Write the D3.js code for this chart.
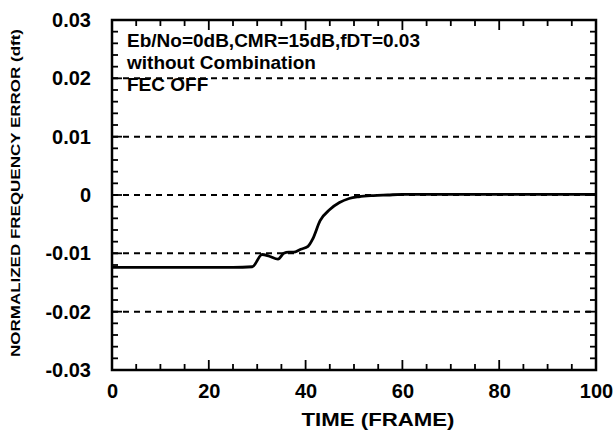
<!DOCTYPE html>
<html><head><meta charset="utf-8">
<script src="https://cdn.jsdelivr.net/npm/d3@7/dist/d3.min.js"></script>
<style>body{margin:0;background:#fff}svg{display:block}text{font-family:"Liberation Sans",Arial,sans-serif;font-weight:bold;fill:#000}</style>
</head><body><svg id="c" width="616" height="432"></svg>
<script>
const frames = [0, 5, 10, 15, 20, 25, 29, 31, 32.5, 34.3, 35.5, 36.5, 37.5, 39, 40.5, 41.5, 43, 45, 47, 49, 51, 54, 57, 60, 70, 80, 90, 100];
const freqErr = [-0.0124, -0.0124, -0.0124, -0.0124, -0.0124, -0.0124, -0.0123, -0.0102, -0.0105, -0.0110, -0.0100, -0.0098, -0.0098, -0.0093, -0.0088, -0.0075, -0.0044, -0.0025, -0.0013, -0.0006, -0.0003, -0.0001, 0.0000, 0.0001, 0.0001, 0.0001, 0.0001, 0.0001];
const xTicks = [0, 20, 40, 60, 80, 100];
const yTicks = [-0.03, -0.02, -0.01, 0, 0.01, 0.02, 0.03];
const yTickLabels = ["-0.03", "-0.02", "-0.01", "0", "0.01", "0.02", "0.03"];
const gridVals = [-0.02, -0.01, 0, 0.01, 0.02];
const notes = ["Eb/No=0dB,CMR=15dB,fDT=0.03", "without Combination", "FEC OFF"];

const svg = d3.select("#c");
const L = 112, R = 596, T = 20, B = 370;
const x = d3.scaleLinear().domain([0, 100]).range([L, R]);
const y = d3.scaleLinear().domain([-0.03, 0.03]).range([B, T]);

// grid
svg.append("g").selectAll("line").data(gridVals).join("line")
  .attr("x1", L).attr("x2", R).attr("y1", d => y(d)).attr("y2", d => y(d))
  .attr("stroke", "#000").attr("stroke-width", 2).attr("stroke-dasharray", "6,5");

// minor/major ticks
const xMinor = d3.range(0, 101, 5);
const yMinor = d3.range(-30, 31, 2).map(v => v / 1000);
const tk = svg.append("g").attr("stroke", "#000").attr("stroke-width", 1.8);
xMinor.forEach(v => {
  const len = v % 20 === 0 ? 10 : 6;
  tk.append("line").attr("x1", x(v)).attr("x2", x(v)).attr("y1", B).attr("y2", B - len);
  tk.append("line").attr("x1", x(v)).attr("x2", x(v)).attr("y1", T).attr("y2", T + len);
});
yMinor.forEach(v => {
  const major = Math.abs(Math.round(v * 1000)) % 10 === 0;
  const len = major ? 10 : 6;
  tk.append("line").attr("x1", L).attr("x2", L + len).attr("y1", y(v)).attr("y2", y(v));
  tk.append("line").attr("x1", R).attr("x2", R - len).attr("y1", y(v)).attr("y2", y(v));
});

// frame
svg.append("rect").attr("x", L).attr("y", T).attr("width", R - L).attr("height", B - T)
  .attr("fill", "none").attr("stroke", "#000").attr("stroke-width", 2.5);

const ff = '"Liberation Sans",Arial,sans-serif';
const xAx = svg.append("g").attr("transform", `translate(0,${B})`)
  .call(d3.axisBottom(x).tickValues(xTicks).tickSize(0).tickPadding(14).tickFormat(d3.format("d")));
xAx.select(".domain").remove();
xAx.selectAll("text").style("font-size", "20px").style("font-family", ff).style("font-weight", "bold");
const yAx = svg.append("g").attr("transform", `translate(${L},0)`)
  .call(d3.axisLeft(y).tickValues(yTicks).tickSize(0).tickPadding(21).tickFormat((d, i) => yTickLabels[i]));
yAx.select(".domain").remove();
yAx.selectAll("text").style("font-size", "20px").style("font-family", ff).style("font-weight", "bold");

// titles
svg.append("text").attr("x", 378).attr("y", 426).attr("text-anchor", "middle")
  .attr("textLength", 153).attr("lengthAdjust", "spacingAndGlyphs")
  .style("font-size", "19px").text("TIME (FRAME)");
svg.append("text").attr("transform", "translate(20,193) rotate(-90)").attr("text-anchor", "middle")
  .attr("textLength", 328).attr("lengthAdjust", "spacingAndGlyphs")
  .style("font-size", "13px").text("NORMALIZED FREQUENCY ERROR (dft)");

// annotation
svg.append("g").selectAll("text").data(notes).join("text")
  .attr("x", 127).attr("y", (d, i) => 47 + i * 22)
  .style("font-size", "19px").text(d => d);

// data line
const line = d3.line().x((d, i) => x(frames[i])).y(d => y(d)).curve(d3.curveMonotoneX);
svg.append("path").datum(freqErr).attr("d", line).attr("fill", "none")
  .attr("stroke", "#000").attr("stroke-width", 2.8).attr("stroke-linejoin", "round");
</script></body></html>
